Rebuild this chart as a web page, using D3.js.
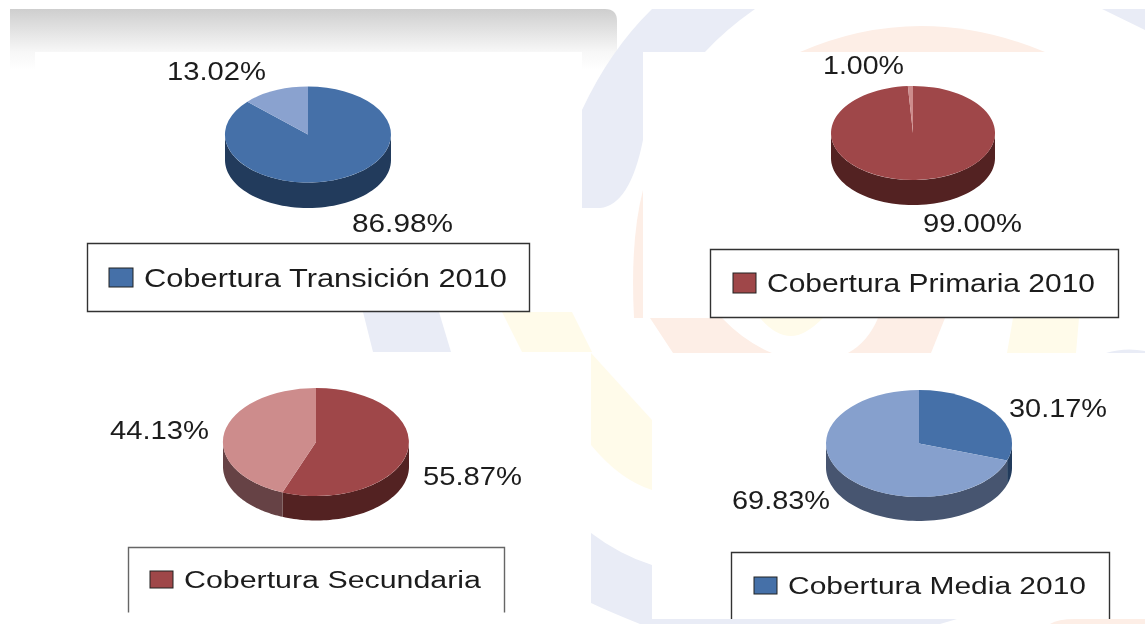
<!DOCTYPE html>
<html>
<head>
<meta charset="utf-8">
<script src="https://cdn.jsdelivr.net/npm/d3@7"></script>
<style>
html,body{margin:0;padding:0;background:#fff}
svg{display:block}
text{font-family:"Liberation Sans",Arial,sans-serif;fill:#1c1c1c}
</style>
</head>
<body>
<svg id="c" width="1145" height="624"></svg>
<script>
// Data
const chartTitles = ["Cobertura Transición 2010","Cobertura Primaria 2010","Cobertura Secundaria","Cobertura Media 2010"];
const transicionValues = [86.98,13.02];
const primariaValues = [99.00,1.00];
const secundariaValues = [55.87,44.13];
const mediaValues = [30.17,69.83];

// Palettes (top colour, wall colour per slice)
const bluePal = {top:["#4570a8","#8aa2cf"],side:["#203a5c","#465570"]};
const redPal = {top:["#9f4648","#cd8c8c"],side:["#522020","#664344"]};
const mediaPal = {top:["#4570a8","#86a0cd"],side:["#203a5c","#465570"]};

// Layout
const layout = [
 {values:transicionValues,pal:bluePal,cx:308,cy:134.5,rx:83,ry:48,depth:25.5,
  labels:[{x:352,y:232,w:101},{x:167,y:80,w:99}],
  box:{x:87.5,y:243.5,w:442,h:68,open:false,c:"#333"},sw:{x:109,y:268,w:24,h:19},tx:{x:144,y:287,w:363,fs:25}},
 {values:primariaValues,pal:redPal,cx:913,cy:133,rx:82,ry:47,depth:25,
  labels:[{x:923,y:232,w:99},{x:823,y:74,w:81}],
  box:{x:710.5,y:249.5,w:408,h:68,open:false,c:"#333"},sw:{x:733,y:273,w:23,h:20},tx:{x:767,y:292,w:328,fs:25}},
 {values:secundariaValues,pal:redPal,cx:316,cy:442,rx:93,ry:54,depth:24.5,
  labels:[{x:423,y:485,w:99},{x:110,y:439,w:99}],
  box:{x:128.5,y:547.5,w:376,h:65,open:true,c:"#666"},sw:{x:150,y:571,w:23,h:17},tx:{x:184,y:588,w:297,fs:23}},
 {values:mediaValues,pal:mediaPal,cx:919,cy:443.5,rx:93,ry:53.5,depth:24,
  labels:[{x:1009,y:417,w:98},{x:732,y:509,w:98}],
  box:{x:731.5,y:552.5,w:378,h:66.5,open:true,c:"#333"},sw:{x:754,y:577,w:23,h:17},tx:{x:788,y:594,w:298,fs:23}}
];

const svg = d3.select("#c");
const defs = svg.append("defs");
const g1 = defs.append("linearGradient").attr("id","head").attr("x1",0).attr("x2",0).attr("y1",0).attr("y2",1);
g1.append("stop").attr("offset",0).attr("stop-color","#cecece");
g1.append("stop").attr("offset",0.7).attr("stop-color","#f7f7f7");
g1.append("stop").attr("offset",1).attr("stop-color","#ffffff");
defs.append("filter").attr("id","soft").attr("x","-5%").attr("y","-5%").attr("width","110%").attr("height","110%")
  .append("feGaussianBlur").attr("stdDeviation",0.55);

svg.append("rect").attr("width",1145).attr("height",624).attr("fill","#fff");

// Grey header
svg.append("path").attr("d","M10 9 L605 9 Q617 9 617 21 L617 70 L10 70Z").attr("fill","url(#head)");

// Watermark fragments behind the panels
const wmBlue="#e9ecf6", wmOrange="#fdeee6", wmYellow="#fffbea";
const wm = svg.append("g");
const shapes = [
 [wmBlue,"M582 110 Q610 50 652 9 L755 9 Q725 30 705 52 L643 52 L643 140 Q630 205 600 208 L582 208Z"],
 [wmBlue,"M1102 9 L1145 9 L1145 30Z"],
 [wmOrange,"M800 52 Q920 0 1045 52Z"],
 [wmOrange,"M634 318 Q630 240 643 190 L643 318Z"],
 [wmOrange,"M650 318 L722 318 Q745 342 772 353 L673 353Z"],
 [wmOrange,"M848 353 Q868 342 878 318 L945 318 L931 353Z"],
 [wmYellow,"M760 318 L823 318 Q805 336 791 336 Q775 336 760 318Z"],
 [wmYellow,"M1013 318 L1079 318 L1076 353 L1007 353Z"],
 [wmBlue,"M363 312 L439 312 L451 352 L373 352Z"],
 [wmYellow,"M502 312 L572 312 L592 352 L522 352Z"],
 [wmYellow,"M591 353 L652 420 L652 490 Q620 480 591 445Z"],
 [wmBlue,"M591 533 Q620 555 652 565 L652 624 L640 624 Q610 612 591 603Z"],
 [wmBlue,"M652 619 L957 619 L940 624 L652 624Z"],
 [wmOrange,"M1050 624 Q1058 619 1075 619 L1145 619 L1145 624Z"],
 [wmBlue,"M1106 353 Q1125 347 1145 351 L1145 353Z"]
];
wm.selectAll("path").data(shapes).join("path").attr("d",d=>d[1]).attr("fill",d=>d[0]);

// White panels
const panels=[[35,52,547,260],[643,52,502,266],[0,352,591,272],[652,353,493,266]];
svg.append("g").selectAll("rect").data(panels).join("rect")
  .attr("x",d=>d[0]).attr("y",d=>d[1]).attr("width",d=>d[2]).attr("height",d=>d[3]).attr("fill","#fff");

// Charts
const pie = d3.pie().sort(null).value(d=>d);
const arc = d3.arc().innerRadius(0).outerRadius(1);
const chart = svg.append("g").attr("filter","url(#soft)");

layout.forEach((p,i)=>{
  const g = chart.append("g");
  const arcs = pie(p.values);
  const xs = d3.scaleLinear().domain([-1,1]).range([p.cx-p.rx,p.cx+p.rx]);
  const ys = d3.scaleLinear().domain([-1,1]).range([p.cy-p.ry,p.cy+p.ry]);
  const line = d3.line();

  // Walls: only the part of each slice facing the viewer
  arcs.forEach((a,k)=>{
    const s = Math.max(a.startAngle,Math.PI/2), e = Math.min(a.endAngle,Math.PI*1.5);
    if(e<=s) return;
    const ang = d3.range(0,61).map(n=>s+(e-s)*n/60);
    const topEdge = ang.map(t=>[xs(Math.sin(t)),ys(-Math.cos(t))]);
    const botEdge = ang.slice().reverse().map(t=>[xs(Math.sin(t)),ys(-Math.cos(t))+p.depth]);
    g.append("path").attr("d",line(topEdge.concat(botEdge))+"Z").attr("fill",p.pal.side[k]);
  });
  // Top face
  g.append("g").attr("transform",`translate(${p.cx},${p.cy}) scale(${p.rx},${p.ry})`)
    .selectAll("path").data(arcs).join("path").attr("d",arc).attr("fill",(d,k)=>p.pal.top[k]);

  // Value labels
  g.selectAll("text.v").data(arcs).join("text").attr("class","v")
    .attr("x",(d,k)=>p.labels[k].x).attr("y",(d,k)=>p.labels[k].y)
    .attr("font-size",26).attr("textLength",(d,k)=>p.labels[k].w).attr("lengthAdjust","spacingAndGlyphs")
    .text(d=>d.value.toFixed(2)+"%");

  // Legend
  const b=p.box;
  const bd = b.open
    ? `M${b.x} ${b.y+b.h} L${b.x} ${b.y} L${b.x+b.w} ${b.y} L${b.x+b.w} ${b.y+b.h}`
    : `M${b.x} ${b.y} L${b.x+b.w} ${b.y} L${b.x+b.w} ${b.y+b.h} L${b.x} ${b.y+b.h}Z`;
  g.append("path").attr("d",bd).attr("fill","none").attr("stroke",b.c).attr("stroke-width",1.4);
  g.append("rect").attr("x",p.sw.x).attr("y",p.sw.y).attr("width",p.sw.w).attr("height",p.sw.h)
    .attr("fill",p.pal.top[0]).attr("stroke","#222").attr("stroke-width",1);
  g.append("text").attr("x",p.tx.x).attr("y",p.tx.y).attr("font-size",p.tx.fs)
    .attr("textLength",p.tx.w).attr("lengthAdjust","spacingAndGlyphs").text(chartTitles[i]);
});
</script>
</body>
</html>
